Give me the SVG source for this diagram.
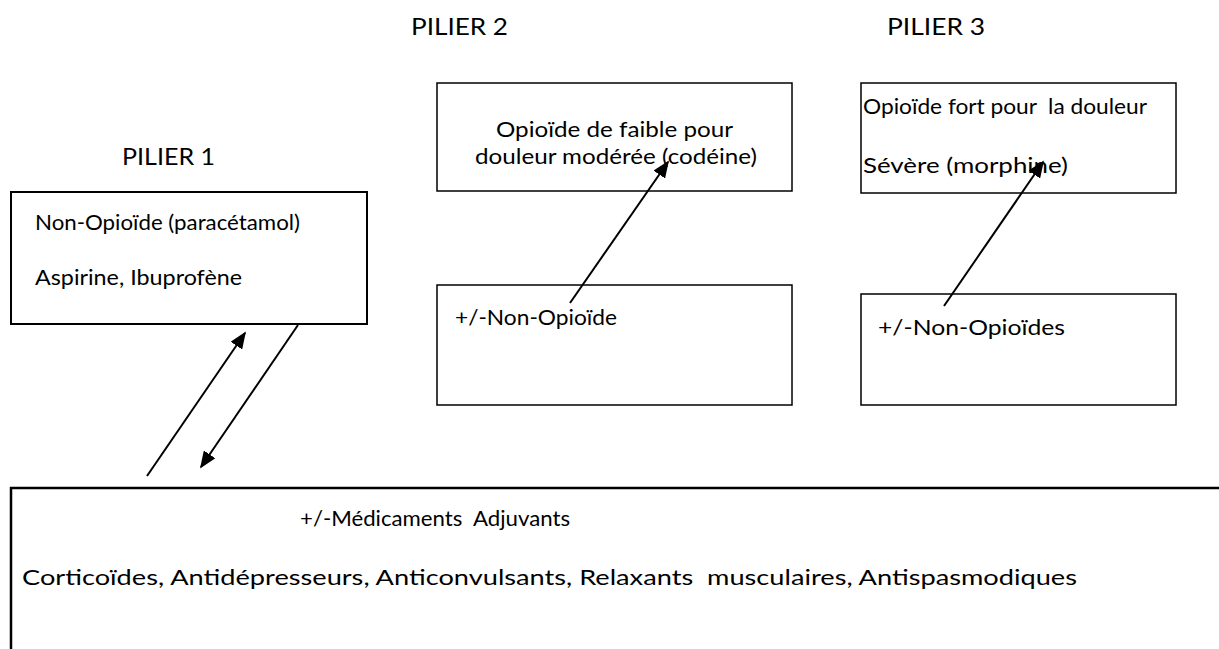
<svg xmlns="http://www.w3.org/2000/svg" width="1219" height="649" viewBox="0 0 1219 649">
<style>
text{font-family:Lato,"Liberation Sans",sans-serif;fill:#000;}
.t{font-size:21px;}
.h{font-size:24px;}
.box{fill:#fff;stroke:#000;stroke-width:1.5;}
.conn line{stroke:#000;stroke-width:2;}
</style>
<defs>
<marker id="ah" viewBox="0 0 10 10" refX="9" refY="5" markerWidth="17" markerHeight="14" markerUnits="userSpaceOnUse" orient="auto" preserveAspectRatio="none">
<path d="M0,0 L10,5 L0,10 Z" fill="#000"/>
</marker>
</defs>
<g id="labels">
<text class="h" x="122" y="165" textLength="93" lengthAdjust="spacingAndGlyphs">PILIER 1</text>
<text class="h" x="411" y="35" textLength="97" lengthAdjust="spacingAndGlyphs">PILIER 2</text>
<text class="h" x="887" y="35" textLength="98" lengthAdjust="spacingAndGlyphs">PILIER 3</text>
</g>
<g id="pilier1">
<rect class="box" x="11" y="192" width="356" height="132" style="stroke-width:2"/>
<text class="t" x="35" y="230" textLength="265" lengthAdjust="spacingAndGlyphs">Non-Opioïde (paracétamol)</text>
<text class="t" x="35" y="285" textLength="207" lengthAdjust="spacingAndGlyphs">Aspirine, Ibuprofène</text>
</g>
<g id="pilier2-top">
<rect class="box" x="437" y="83" width="355" height="108"/>
<text class="t" x="496" y="137" textLength="237" lengthAdjust="spacingAndGlyphs">Opioïde de faible pour</text>
<text class="t" x="475" y="164" textLength="282" lengthAdjust="spacingAndGlyphs">douleur modérée (codéine)</text>
</g>
<g id="pilier2-bottom">
<rect class="box" x="437" y="285" width="355" height="120"/>
<text class="t" x="455" y="325" textLength="162" lengthAdjust="spacingAndGlyphs">+/-Non-Opioïde</text>
</g>
<g id="pilier3-top">
<rect class="box" x="861" y="83" width="315" height="110"/>
<text class="t" x="863" y="114" textLength="284" lengthAdjust="spacingAndGlyphs" xml:space="preserve">Opioïde fort pour  la douleur</text>
<text class="t" x="863" y="173" textLength="205" lengthAdjust="spacingAndGlyphs">Sévère (morphine)</text>
</g>
<g id="pilier3-bottom">
<rect class="box" x="861" y="294" width="315" height="111"/>
<text class="t" x="878" y="335" textLength="187" lengthAdjust="spacingAndGlyphs">+/-Non-Opioïdes</text>
</g>
<g id="adjuvants">
<rect class="box" x="11" y="488" width="1240" height="200" style="stroke-width:2.5"/>
<text class="t" x="300" y="526" textLength="270" lengthAdjust="spacingAndGlyphs" xml:space="preserve">+/-Médicaments  Adjuvants</text>
<text class="t" x="22" y="585" textLength="1055" lengthAdjust="spacingAndGlyphs" xml:space="preserve">Corticoïdes, Antidépresseurs, Anticonvulsants, Relaxants  musculaires, Antispasmodiques</text>
</g>
<g id="connectors" class="conn">
<line x1="147" y1="476" x2="245" y2="333" marker-end="url(#ah)"/>
<line x1="298" y1="325" x2="201" y2="467" marker-end="url(#ah)"/>
<line x1="570" y1="303" x2="668" y2="162" marker-end="url(#ah)"/>
<line x1="944" y1="306" x2="1043" y2="162" marker-end="url(#ah)"/>
</g>
</svg>
